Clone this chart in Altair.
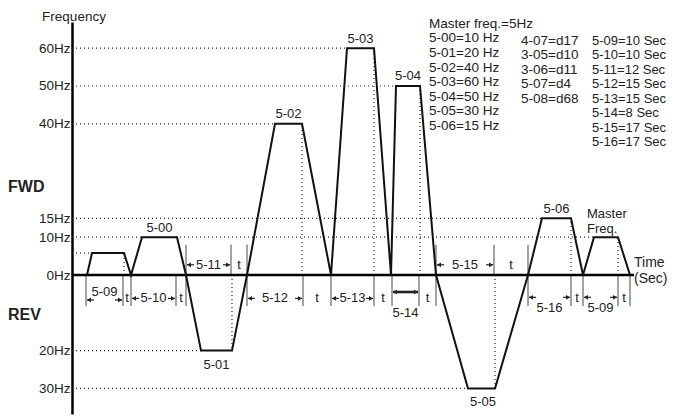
import altair as alt
import pandas as pd

# ---------------- data ----------------
# speed profile: time position (diagram units) and output frequency (Hz, REV < 0)
profile_t = [87, 92, 124, 131, 142, 177, 186, 201, 232, 247, 275, 302, 331, 347, 374,
             391, 396, 420, 436, 468, 495, 528, 542, 571, 583, 594, 618, 630]
profile_f = [0, 5.8, 5.8, 0, 10, 10, 0, -20, -20, 0, 40, 40, 0, 60, 60,
             0, 50, 50, 0, -30, -30, 0, 15, 15, 0, 10, 10, 0]

# frequency axis ticks (REV shown below zero)
freq_ticks = [60, 50, 40, 15, 10, 0, -20, -30]

# horizontal dotted guides: level and where they stop
hguide_f = [60, 50, 40, 15, 10, 5.8, -20, -30]
hguide_end = [347, 396, 275, 542, 594, 124, 201, 468]

# vertical dotted guides: time and level
vguide_t = [124, 232, 302, 374, 420, 495, 571, 618]
vguide_f = [5.8, -20, 40, 60, 50, -30, 15, 10]

# step-speed labels on the plateaus
step_up_names = ["5-00", "5-02", "5-03", "5-04", "5-06"]
step_up_t = [159.5, 288.5, 360.5, 408, 556.5]
step_up_f = [10, 40, 60, 50, 15]
step_dn_names = ["5-01", "5-05"]
step_dn_t = [216.5, 483]
step_dn_f = [-20, -30]

# dimension tick marks below / above the time axis
tick_below_t = [86, 123, 131, 176, 186, 247, 303, 331, 374, 392, 419, 436, 528, 571, 583, 618, 630]
tick_above_t = [186, 231, 247, 436, 494, 528]

# dimension segments
inline_lab = ["5-10", "5-12", "5-13"]
inline_t1 = [131, 247, 331]
inline_t2 = [176, 303, 374]

above_lab = ["5-11", "5-15"]
above_t1 = [186, 436]
above_t2 = [231, 494]

stacked_lab = ["5-16", "5-09"]
stacked_t1 = [528, 583]
stacked_t2 = [571, 618]

first_lab = ["5-09"]
first_t1 = [86]
first_t2 = [123]

bold_lab = ["5-14"]
bold_t1 = [392]
bold_t2 = [419]

t_below_t = [127, 181, 317, 383, 427.5, 577, 624]
t_above_t = [239, 511]

legend_head = ["Master freq.=5Hz"]
legend_col1 = ["5-00=10 Hz", "5-01=20 Hz", "5-02=40 Hz", "5-03=60 Hz",
               "5-04=50 Hz", "5-05=30 Hz", "5-06=15 Hz"]
legend_col2 = ["4-07=d17", "3-05=d10", "3-06=d11", "5-07=d4", "5-08=d68"]
legend_col3 = ["5-09=10 Sec", "5-10=10 Sec", "5-11=12 Sec", "5-12=15 Sec",
               "5-13=15 Sec", "5-14=8 Sec", "5-15=17 Sec", "5-16=17 Sec"]

# ---------------- chart ----------------
FONT = "Liberation Sans"
INK = "#222222"
GRAY = "#8c8c8c"

xs = alt.Scale(domain=[72, 668], nice=False, zero=False)
ys = alt.Scale(domain=[-36.77, 66.93], nice=False, zero=False)
yaxis = alt.Axis(values=freq_ticks, labelExpr="abs(datum.value) + 'Hz'", ticks=False,
                 grid=False, domain=True, domainColor="black", domainWidth=2.5,
                 labelFont=FONT, labelFontSize=13.5, labelColor=INK, labelPadding=2,
                 title=None, labelOverlap=False, labelFlush=False, labelBound=False)


def X(f="t"):
    return alt.X(f"{f}:Q", scale=xs, axis=None)


def Y(f="f"):
    return alt.Y(f"{f}:Q", scale=ys, axis=yaxis)


layers = []

# horizontal dotted guides
hg = pd.DataFrame({"t": [72] * len(hguide_f), "t2": hguide_end, "f": hguide_f})
layers.append(alt.Chart(hg).mark_rule(color=INK, strokeWidth=1.2, strokeDash=[1, 3]).encode(
    x=X(), x2="t2:Q", y=Y()))

# vertical dotted guides
vg = pd.DataFrame({"t": vguide_t, "f": [0] * len(vguide_t), "f2": vguide_f})
layers.append(alt.Chart(vg).mark_rule(color=INK, strokeWidth=1.2, strokeDash=[1, 3]).encode(
    x=X(), y=Y(), y2="f2:Q"))

# dimension ticks
tb = pd.DataFrame({"t": tick_below_t, "f": [0] * len(tick_below_t), "f2": [-8.2] * len(tick_below_t)})
ta = pd.DataFrame({"t": tick_above_t, "f": [0] * len(tick_above_t), "f2": [8.0] * len(tick_above_t)})
for d in (tb, ta):
    layers.append(alt.Chart(d).mark_rule(color=GRAY, strokeWidth=1.6).encode(
        x=X(), y=Y(), y2="f2:Q"))

# time axis (0 Hz line)
zl = pd.DataFrame({"t": [72], "t2": [634], "f": [0]})
layers.append(alt.Chart(zl).mark_rule(color="black", strokeWidth=2.5).encode(
    x=X(), x2="t2:Q", y=Y()))

# profile
pf = pd.DataFrame({"t": profile_t, "f": profile_f, "i": range(len(profile_t))})
layers.append(alt.Chart(pf).mark_line(color="#111111", strokeWidth=2).encode(
    x=X(), y=Y(), order="i:Q"))


# arrows
def arrows(t1s, t2s, fval, full=False, width=1.2):
    shafts, lh, rh = [], [], []
    for a, b in zip(t1s, t2s):
        if full:
            shafts.append({"t": a + 1, "t2": b - 1, "f": fval})
        else:
            shafts.append({"t": a + 1, "t2": a + 8, "f": fval})
            shafts.append({"t": b - 8, "t2": b - 1, "f": fval})
        lh.append({"t": a + 3, "f": fval})
        rh.append({"t": b - 3, "f": fval})
    out = [alt.Chart(pd.DataFrame(shafts)).mark_rule(color=INK, strokeWidth=width).encode(
        x=X(), x2="t2:Q", y=Y())]
    out.append(alt.Chart(pd.DataFrame(lh)).mark_point(shape="triangle-left", filled=True,
                                                      size=22, color=INK, opacity=1).encode(x=X(), y=Y()))
    out.append(alt.Chart(pd.DataFrame(rh)).mark_point(shape="triangle-right", filled=True,
                                                       size=22, color=INK, opacity=1).encode(x=X(), y=Y()))
    return out


layers += arrows(inline_t1, inline_t2, -6.2)
layers += arrows(above_t1, above_t2, 2.7)
layers += arrows(stacked_t1, stacked_t2, -5.9)
layers += arrows(first_t1, first_t2, -6.6)
layers += arrows(bold_t1, bold_t2, -4.5, full=True, width=2.6)


def text_layer(texts, ts, fs, size=13, align="center", weight="normal", dy=0, baseline="middle"):
    d = pd.DataFrame({"t": ts, "f": fs, "txt": texts})
    return alt.Chart(d).mark_text(font=FONT, fontSize=size, color=INK, align=align,
                                  baseline=baseline, fontWeight=weight, dy=dy).encode(
        x=X(), y=Y(), text="txt:N")


# plateau labels
layers.append(text_layer(step_up_names, step_up_t, step_up_f, dy=-9.5))
layers.append(text_layer(step_dn_names, step_dn_t, step_dn_f, dy=14))

# dimension labels
layers.append(text_layer(inline_lab, [(a + b) / 2 for a, b in zip(inline_t1, inline_t2)], [-6.2] * 3))
layers.append(text_layer(above_lab, [(a + b) / 2 for a, b in zip(above_t1, above_t2)], [2.7] * 2))
layers.append(text_layer(stacked_lab, [(a + b) / 2 for a, b in zip(stacked_t1, stacked_t2)], [-8.6] * 2))
layers.append(text_layer(first_lab, [(a + b) / 2 for a, b in zip(first_t1, first_t2)], [-4.4]))
layers.append(text_layer(bold_lab, [(a + b) / 2 for a, b in zip(bold_t1, bold_t2)], [-10.1]))
layers.append(text_layer(["t"] * len(t_below_t), t_below_t, [-6.2] * len(t_below_t)))
layers.append(text_layer(["t"] * len(t_above_t), t_above_t, [2.7] * len(t_above_t)))

# side labels
layers.append(text_layer(["Frequency"], [74], [68.3], size=13.5))
layers.append(text_layer(["FWD"], [8], [23.3], size=16, align="left", weight="bold"))
layers.append(text_layer(["REV"], [8], [-10.6], size=16, align="left", weight="bold"))
layers.append(text_layer(["Master", "Freq."], [587, 587], [16.1, 12.2], align="left"))
layers.append(text_layer(["Time", "(Sec)"], [634, 634], [3.2, -1.1], size=14, align="left"))

# parameter legend
layers.append(text_layer(legend_head, [429], [66.4], size=13.5, align="left"))
layers.append(text_layer(legend_col1, [429] * len(legend_col1),
                         [62.6 - 3.86 * i for i in range(len(legend_col1))], size=13.5, align="left"))
layers.append(text_layer(legend_col2, [521] * len(legend_col2),
                         [62.0 - 3.84 * i for i in range(len(legend_col2))], size=13.5, align="left"))
layers.append(text_layer(legend_col3, [592] * len(legend_col3),
                         [62.0 - 3.84 * i for i in range(len(legend_col3))], size=13, align="left"))

chart = alt.layer(*layers).properties(
    width=596, height=392,
    autosize=alt.AutoSizeParams(type="none"),
    padding={"left": 64, "top": 14, "right": 0, "bottom": 2},
    background="white",
).configure_view(stroke=None)

chart.save("out.html", embed_options={"renderer": "svg", "actions": False})
